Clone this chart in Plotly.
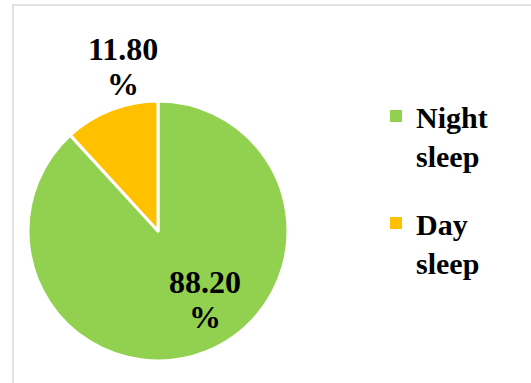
import plotly.graph_objects as go

# Share of total sleep time
labels = ["Night<br>sleep", "Day<br>sleep"]
values = [88.20, 11.80]
colors = ["#92D050", "#FFC000"]

W, H = 531, 383
FONT = "Liberation Serif, Times New Roman, serif"

fig = go.Figure(
    go.Pie(
        labels=labels,
        values=values,
        sort=False,
        direction="clockwise",
        rotation=0,
        marker=dict(colors=colors, line=dict(color="white", width=3)),
        textinfo="none",
        hoverinfo="label+value",
        showlegend=False,
        domain=dict(x=[28 / W, 288 / W], y=[22 / H, 282 / H]),
    )
)

# legend entries: square swatches, one group per category
for i, (name, col) in enumerate(zip(labels, colors)):
    fig.add_trace(
        go.Scatter(
            x=[None], y=[None], mode="markers", name=name,
            marker=dict(symbol="square", size=12, color=col),
            legendgroup=f"g{i}", showlegend=True, hoverinfo="skip",
        )
    )

# value labels: number on one line, percent sign below
label_pos = [(205, 282), (123, 49)]
line_gap = 35
for v, (px, py) in zip(values, label_pos):
    for txt, yy in ((f"<b>{v:.2f}</b>", py), ("<b>%</b>", py + line_gap)):
        fig.add_annotation(
            x=px / W, y=1 - yy / H, xref="paper", yref="paper",
            text=txt, showarrow=False,
            font=dict(family=FONT, size=32, color="black"),
            xanchor="center", yanchor="middle", align="center",
        )

# chart frame
fig.add_shape(
    type="rect", xref="paper", yref="paper",
    x0=13 / W, x1=1.02, y0=-0.02, y1=1 - 5 / H,
    line=dict(color="#d9d9d9", width=1.5), fillcolor="rgba(0,0,0,0)",
)

fig.update_layout(
    width=W, height=H,
    margin=dict(l=0, r=0, t=0, b=0),
    paper_bgcolor="white",
    plot_bgcolor="white",
    xaxis=dict(visible=False),
    yaxis=dict(visible=False),
    showlegend=True,
    legend=dict(
        x=376 / W, y=1 - 90 / H, xanchor="left", yanchor="top",
        font=dict(family=FONT, size=30, color="black", weight="bold"),
        bgcolor="rgba(0,0,0,0)",
        valign="top",
        traceorder="grouped",
        tracegroupgap=26,
    ),
)

fig.write_html("out.html")
